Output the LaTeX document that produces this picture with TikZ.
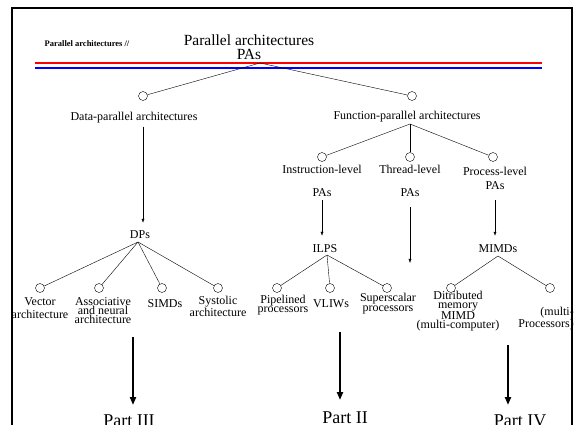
\documentclass[tikz,border=0pt]{standalone}
\usepackage{fontspec}
\setmainfont{Liberation Serif}
\usetikzlibrary{arrows.meta}

\begin{document}
\begin{tikzpicture}[x=1pt,y=1pt,
	dot/.style={circle,draw,minimum size=9pt,inner sep=0pt},
	lbl/.style={font=\fontsize{12}{9}\selectfont,align=center,inner sep=0pt},
	arr/.style={-{Latex[length=4pt,width=3pt]}},
	partarr/.style={line width=2.2pt,-{Triangle[length=8pt,width=6pt]}},
	part/.style={font=\fontsize{18}{18}\selectfont,inner sep=0pt,anchor=north}]
	\useasboundingbox (0,0) rectangle (579,-425);
	\draw [line width=2.5pt] (12,-425) -- (12,-8) -- (572,-8) -- (572,-425);
	\draw [red,line width=2pt] (35,-63) -- (542,-63);
	\draw [blue,line width=2pt] (35,-68) -- (542,-68);
	\node [inner sep=0pt,font=\bfseries\fontsize{8.5}{9}\selectfont] (hdr) at (87,-44) {Parallel architectures //};
	\node [inner sep=0pt,align=center,font=\fontsize{15.5}{14}\selectfont] (title) at (249,-47) {Parallel architectures\\PAs};
	\coordinate (pa) at (260,-63);
	\node [dot] (c-dpa) at (143,-96) {};
	\node [dot] (c-fpa) at (412,-96) {};
	\draw (pa) -- (c-dpa);
	\draw (pa) -- (c-fpa);
	\node [lbl] (dpa) at (134,-118) {Data-parallel architectures};
	\node [lbl] (fpa) at (407,-117) {Function-parallel architectures};
	\node [lbl] (dps) at (140,-235) {DPs};
	\draw [arr,shorten <=3pt,shorten >=8pt] (c-dpa |- dpa.south) -- (c-dpa |- dps.north);
	\coordinate (fpa-j) at (410,-124);
	\node [dot] (c-il) at (322,-157) {};
	\node [dot] (c-tl) at (410,-157) {};
	\node [dot] (c-pl) at (493,-157) {};
	\foreach \n in {c-il,c-tl,c-pl}
		\draw (fpa-j) -- (\n);
	\node [lbl] (il) at (322,-169) {Instruction-level};
	\node [lbl] (tl) at (410,-169) {Thread-level};
	\node [lbl] (pl) at (495,-171) {Process-level};
	\node [lbl] (ilpas) at (322,-193) {PAs};
	\node [lbl] (tlpas) at (410,-193) {PAs};
	\node [lbl] (plpas) at (495,-186) {PAs};
	\node [lbl] (ilps) at (325,-249) {ILPS};
	\node [lbl] (mimds) at (498,-249) {MIMDs};
	\coordinate (tl-end) at (410,-263);
	\draw [arr,shorten <=3pt,shorten >=9pt] (ilpas.south) -- (ilpas.south |- ilps.north);
	\draw [arr,shorten <=10pt] (tlpas.south) -- (tl-end);
	\draw [arr,shorten <=10pt,shorten >=9pt] (plpas.south) -- (plpas.south |- mimds.north);
	% leaves
	\coordinate (dp-j) at (138,-242);
	\coordinate (ilp-j) at (327,-255);
	\coordinate (mimd-j) at (498,-256);
	\foreach \n/\x/\j in {vec/40/dp-j,asc/99/dp-j,simd/162/dp-j,sys/218/dp-j,
		pip/277/ilp-j,vliw/330/ilp-j,sup/387/ilp-j,dm/451/mimd-j,mp/550/mimd-j}{
		\node [dot] (c-\n) at (\x,-288) {};
		\draw (\j) -- (c-\n);
	}
	\node [lbl,font=\fontsize{12}{13}\selectfont] (vec) at (40,-308.5) {Vector\\architecture};
	\node [lbl,font=\fontsize{12}{9}\selectfont] (asc) at (103,-311) {Associative\\and neural\\architecture};
	\node [lbl] (simd) at (165,-304) {SIMDs};
	\node [lbl,font=\fontsize{12}{8.5}\selectfont] (sys) at (218,-306) {Systolic\\architecture};
	\node [lbl] (pip) at (283,-305.5) {Pipelined\\processors};
	\node [lbl] (vliw) at (331,-304) {VLIWs};
	\node [lbl,font=\fontsize{12}{10}\selectfont] (sup) at (388,-304) {Superscalar\\processors};
	\node [lbl,font=\fontsize{12}{8.5}\selectfont] (dm) at (458,-311) {Ditributed\\memory\\MIMD\\(multi-computer)};
	\node [lbl,align=right,anchor=east] (mp) at (574,-318.5) {(multi-\\Processors)};
	% parts
	\node [part] (p3) at (129,-415) {Part III};
	\node [part] (p2) at (345,-412) {Part II};
	\node [part] (p4) at (520,-415) {Part IV};
	\coordinate (p3-top) at (133,-337);
	\coordinate (p2-top) at (340,-332);
	\coordinate (p4-top) at (508,-345);
	\draw [partarr,shorten >=10pt] (p3-top) -- (p3-top |- p3.north);
	\draw [partarr,shorten >=12pt] (p2-top) -- (p2-top |- p2.north);
	\draw [partarr,shorten >=10pt] (p4-top) -- (p4-top |- p4.north);
\end{tikzpicture}
\end{document}
